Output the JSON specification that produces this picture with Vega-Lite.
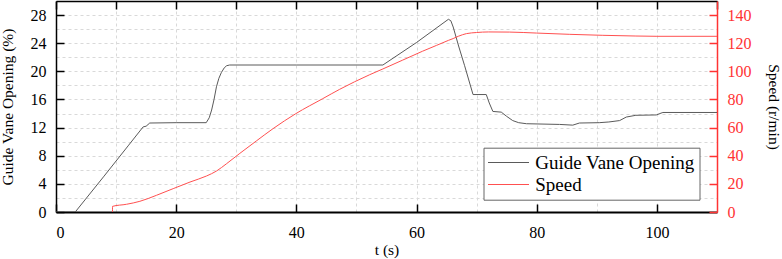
{
  "$schema": "https://vega.github.io/schema/vega-lite/v6.json",
  "width": 661,
  "height": 211,
  "autosize": {"type": "none"},
  "padding": {"left": 56, "top": 1, "right": 65, "bottom": 47},
  "background": "white",
  "config": {
    "view": {"stroke": null},
    "font": "Liberation Serif",
    "axis": {"labelFont": "Liberation Serif", "titleFont": "Liberation Serif", "labelFontSize": 16, "titleFontSize": 15.5, "titleFontWeight": "normal", "labelColor": "#000", "titleColor": "#000", "domainColor": "#000", "tickColor": "#000", "domainWidth": 1.5, "tickWidth": 1.5, "tickSize": -8, "labelPadding": 18}
  },
  "datasets": {
    "gvo": [
      {"t": 0, "v": 0}, {"t": 3.2, "v": 0}, {"t": 8, "v": 5.1}, {"t": 12, "v": 9.4}, {"t": 14.5, "v": 12.1}, {"t": 15.0, "v": 12.2}, {"t": 15.6, "v": 12.65}, {"t": 20, "v": 12.7}, {"t": 25.0, "v": 12.7}, {"t": 25.5, "v": 13.4}, {"t": 25.9, "v": 14.5}, {"t": 26.3, "v": 16.0}, {"t": 26.7, "v": 17.8}, {"t": 27.1, "v": 19.0}, {"t": 27.5, "v": 19.8}, {"t": 28.0, "v": 20.5}, {"t": 28.4, "v": 20.8}, {"t": 28.9, "v": 20.9}, {"t": 40, "v": 20.9}, {"t": 54.4, "v": 20.9}, {"t": 60, "v": 24.1}, {"t": 65.3, "v": 27.4}, {"t": 65.7, "v": 27.2}, {"t": 66.1, "v": 26.3}, {"t": 67, "v": 23.6}, {"t": 68, "v": 20.8}, {"t": 69.4, "v": 16.7}, {"t": 71.6, "v": 16.7}, {"t": 72.1, "v": 15.5}, {"t": 72.7, "v": 14.3}, {"t": 74.1, "v": 14.2}, {"t": 75, "v": 13.6}, {"t": 76.0, "v": 13.0}, {"t": 77, "v": 12.7}, {"t": 78.3, "v": 12.55}, {"t": 83.8, "v": 12.45}, {"t": 86.0, "v": 12.35}, {"t": 87.1, "v": 12.65}, {"t": 90.4, "v": 12.7}, {"t": 92, "v": 12.8}, {"t": 93.8, "v": 13.0}, {"t": 94.9, "v": 13.5}, {"t": 96.5, "v": 13.75}, {"t": 99.9, "v": 13.8}, {"t": 100.5, "v": 14.0}, {"t": 101.0, "v": 14.15}, {"t": 110, "v": 14.15}
    ],
    "speed": [
      {"i": 0, "t": 9.4, "s": 0}, {"i": 1, "t": 9.4, "s": 4.0}, {"i": 2, "t": 11.75, "s": 5.5}, {"i": 3, "t": 13.96, "s": 7.6}, {"i": 4, "t": 16.74, "s": 11.9}, {"i": 5, "t": 19.5, "s": 16.6}, {"i": 6, "t": 22.3, "s": 21.3}, {"i": 7, "t": 25.05, "s": 25.6}, {"i": 8, "t": 26.7, "s": 29.1}, {"i": 9, "t": 28.4, "s": 34.4}, {"i": 10, "t": 30.6, "s": 41.7}, {"i": 11, "t": 33.4, "s": 50.7}, {"i": 12, "t": 36.1, "s": 59.2}, {"i": 13, "t": 39.9, "s": 69.9}, {"i": 14, "t": 44.4, "s": 80.6}, {"i": 15, "t": 47.2, "s": 87.2}, {"i": 16, "t": 52.2, "s": 97.6}, {"i": 17, "t": 54.4, "s": 101.7}, {"i": 18, "t": 57.7, "s": 108.0}, {"i": 19, "t": 61, "s": 114.3}, {"i": 20, "t": 63.3, "s": 118.4}, {"i": 21, "t": 65.3, "s": 122.0}, {"i": 22, "t": 66.1, "s": 123.3}, {"i": 23, "t": 67, "s": 125.0}, {"i": 24, "t": 68.3, "s": 126.8}, {"i": 25, "t": 70, "s": 127.6}, {"i": 26, "t": 72, "s": 128.0}, {"i": 27, "t": 75.5, "s": 127.9}, {"i": 28, "t": 80, "s": 127.2}, {"i": 29, "t": 85.5, "s": 126.3}, {"i": 30, "t": 91, "s": 125.6}, {"i": 31, "t": 96.5, "s": 125.1}, {"i": 32, "t": 100, "s": 124.9}, {"i": 33, "t": 110, "s": 124.9}
    ]
  },
  "layer": [
    {
      "data": {"name": "gvo"},
      "mark": {"type": "line", "strokeWidth": 1, "clip": true},
      "encoding": {
        "x": {"field": "t", "type": "quantitative", "scale": {"domain": [0, 110], "nice": false, "zero": false},
          "axis": {"orient": "bottom", "title": "t (s)", "values": [0, 20, 40, 60, 80, 100], "grid": false, "domainWidth": 2, "labelPadding": 20, "titlePadding": 2}},
        "y": {"field": "v", "type": "quantitative", "scale": {"domain": [0, 30], "nice": false},
          "axis": {"orient": "left", "title": "Guide Vane Opening (%)", "values": [0, 2, 4, 6, 8, 10, 12, 14, 16, 18, 20, 22, 24, 26, 28], "labelExpr": "datum.value % 4 === 0 ? datum.label : ''", "tickOpacity": {"condition": {"test": "datum.value % 4 === 0", "value": 1}, "value": 0}, "grid": true, "gridColor": "#d9d9d9", "gridDash": [3, 3], "gridWidth": 1, "titlePadding": 15}},
        "color": {"datum": "Guide Vane Opening", "type": "nominal",
          "scale": {"domain": ["Guide Vane Opening", "Speed"], "range": ["#5a5a5a", "#ff5050"]},
          "legend": {"title": null, "orient": "none", "legendX": 427.5, "legendY": 146.7, "symbolType": "stroke", "symbolSize": 1681, "symbolStrokeWidth": 1, "clipHeight": 21.6, "labelFont": "Liberation Serif", "labelFontSize": 19, "labelColor": "#000", "strokeColor": "#666", "fillColor": "white", "padding": 4, "rowPadding": 0, "labelOffset": 5.7}}
      }
    },
    {
      "data": {"name": "speed"},
      "mark": {"type": "line", "strokeWidth": 1, "clip": true, "interpolate": "monotone"},
      "encoding": {
        "x": {"field": "t", "type": "quantitative", "scale": {"domain": [0, 110], "nice": false, "zero": false},
          "axis": {"orient": "top", "title": null, "labels": false, "values": [0, 10, 20, 30, 40, 50, 60, 70, 80, 90, 100, 110], "grid": true, "gridColor": "#d9d9d9", "gridDash": [3, 3], "gridWidth": 1}},
        "y": {"field": "s", "type": "quantitative", "scale": {"domain": [0, 150], "nice": false},
          "axis": {"orient": "right", "title": "Speed (r/min)", "values": [0, 20, 40, 60, 80, 100, 120, 140], "grid": false, "domainColor": "#ff3333", "tickColor": "#ff3333", "labelColor": "#ff3333", "titlePadding": 14}},
        "order": {"field": "i", "type": "quantitative"},
        "color": {"datum": "Speed", "type": "nominal"}
      }
    }
  ],
  "resolve": {"scale": {"y": "independent"}, "axis": {"x": "independent"}}
}
